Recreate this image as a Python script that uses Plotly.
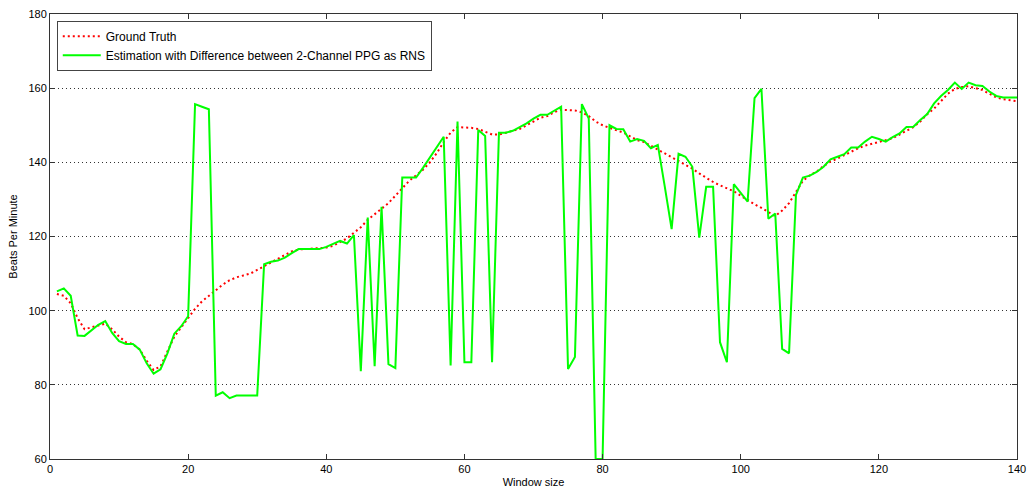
import plotly.graph_objects as go

window = list(range(1, 141))

ground_truth = [
    104.5, 104, 102, 98, 95, 95.5, 96, 96.5, 95, 93,
    91.5, 91, 89.5, 86.5, 84, 85, 89, 93, 95.5, 98,
    100.5, 102.5, 104, 105.5, 107, 108.2, 109, 109.5, 110, 111,
    112, 113, 114, 115, 116, 116.5, 116.6, 116.7, 116.8, 117,
    117.5, 118.5, 119.5, 121, 122.5, 124.5, 126, 127.5, 129, 131,
    133, 135, 136.5, 138, 140, 142.5, 145.5, 148, 149.5, 149.5,
    149.3, 149, 148.3, 147.5, 147.5, 148, 148.5, 149, 150, 151,
    152, 152.5, 153.5, 154.2, 154.2, 154, 153.5, 152.5, 151, 150,
    149.3, 148.7, 148, 147, 146, 145.5, 144.5, 143.5, 142.5, 141.5,
    140.5, 139.5, 138.3, 137, 135.8, 134.7, 133.8, 133, 132.2, 131,
    129.8, 128.7, 127.7, 126.5, 125.5, 127, 129, 132, 135, 136.5,
    137.5, 139, 140.2, 141, 142, 143, 143.8, 144.5, 145, 145.5,
    146, 146.5, 147.5, 148.5, 149.5, 151, 153, 154.5, 156.5, 158.5,
    159.8, 160.3, 160.5, 160, 159.5, 158.5, 157.5, 157, 156.8, 156.5,
]

estimation = [
    105.2, 106, 104, 93.3, 93.2, 94.8, 96.2, 97.2, 94, 91.8,
    91, 91, 89.5, 85.8, 83, 84.2, 88.5, 93.8, 95.8, 98.5,
    155.7, 155, 154.3, 77.1, 78, 76.4, 77.1, 77.1, 77.1, 77.1,
    112.5, 113.2, 113.5, 114.3, 115.5, 116.6, 116.6, 116.6, 116.6, 117.2,
    118, 118.8, 118.1, 120.4, 83.7, 125.1, 85, 128, 85.6, 84.5,
    135.9, 135.9, 135.9, 138.5, 141.2, 144, 146.9, 85.2, 151, 86.1,
    86.1, 148.7, 147.1, 86.1, 148, 148, 148.5, 149.5, 150.5, 151.8,
    152.8, 152.8, 153.8, 155, 84.3, 87.5, 155.7, 151.8, 60, 60,
    150, 149, 148.9, 145.6, 146.3, 145.8, 143.8, 144.7, 133.5, 122,
    142.3, 141.5, 138.8, 119.7, 133.4, 133.4, 91.5, 86.1, 134.1, 131.8,
    129.4, 157.3, 159.8, 124.8, 126.2, 89.7, 88.5, 131.2, 135.9, 136.4,
    137.4, 138.8, 140.8, 141.5, 142.2, 144, 144, 145.6, 146.9, 146.3,
    145.6, 146.8, 147.8, 149.5, 149.6, 151.4, 153, 155.9, 157.9, 159.5,
    161.5, 159.8, 161.5, 160.8, 160.6, 159.1, 157.9, 157.5, 157.5, 157.5,
]

x_ticks = [0, 20, 40, 60, 80, 100, 120, 140]
y_ticks = [60, 80, 100, 120, 140, 160, 180]

fig = go.Figure()
fig.add_trace(go.Scatter(
    x=window, y=ground_truth, mode="lines", name="Ground Truth",
    line=dict(color="#ff0000", width=2, dash="2px,3px"),
))
fig.add_trace(go.Scatter(
    x=window, y=estimation, mode="lines",
    name="Estimation with Difference between 2-Channel PPG as RNS",
    line=dict(color="#00ff00", width=2),
))

axis_common = dict(
    showline=True, linecolor="#333333", linewidth=1, mirror="ticks",
    ticks="inside", ticklen=5, tickcolor="#333333", zeroline=False,
    automargin=False,
    tickfont=dict(family="Arial, Liberation Sans, sans-serif", size=11, color="#000"),
)

fig.update_layout(
    width=1029, height=494,
    margin=dict(l=50, r=12, t=14, b=35),
    paper_bgcolor="white", plot_bgcolor="white",
    font=dict(family="Arial, Liberation Sans, sans-serif", size=11, color="#000"),
    showlegend=True,
    legend=dict(
        x=0.007, y=0.985, xanchor="left", yanchor="top",
        bgcolor="white", bordercolor="#444444", borderwidth=1,
        font=dict(size=12), tracegroupgap=0, itemwidth=38,
    ),
    xaxis=dict(
        range=[0, 140], tickvals=x_ticks, showgrid=False,
        title=dict(text="Window size", standoff=4, font=dict(size=11)),
        **axis_common,
    ),
    yaxis=dict(
        range=[60, 180], tickvals=y_ticks, showgrid=True,
        gridcolor="#333333", griddash="1px,3px", gridwidth=1,
        title=dict(text="Beats Per Minute", standoff=8, font=dict(size=11)),
        **axis_common,
    ),
)

fig.write_html("out.html")
